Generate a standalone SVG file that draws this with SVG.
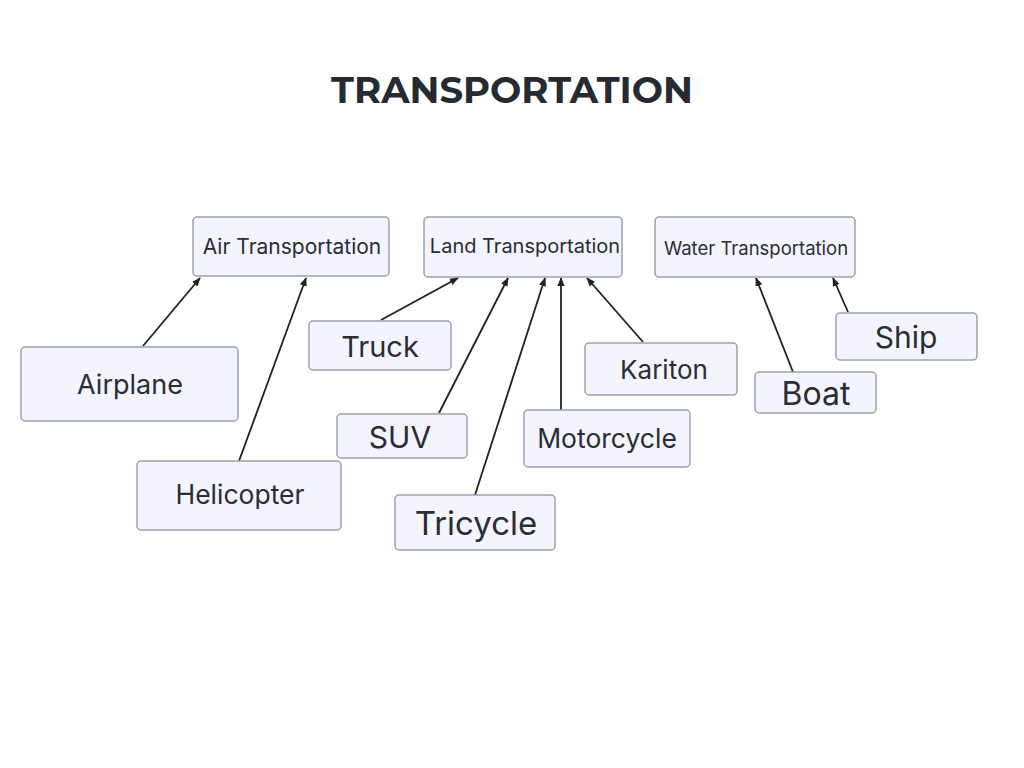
<svg xmlns="http://www.w3.org/2000/svg" width="1024" height="768" viewBox="0 0 1024 768">
<style>
.n{fill:#f4f4fe;stroke:#9ba1ad;stroke-width:1.5}
.t{font-family:Inter,"Noto Sans","Liberation Sans",sans-serif;fill:#2a2d34;text-anchor:middle;dominant-baseline:central}
.c{stroke:#222;stroke-width:1.8;fill:none;marker-end:url(#a)}
</style>
<defs><marker id="a" viewBox="0 0 10 10" refX="9" refY="5" markerWidth="5" markerHeight="5" orient="auto"><path d="M0,1 L10,5 L0,9 Z" fill="#222"/></marker></defs>
<rect width="1024" height="768" fill="#fff"/>
<text x="512" y="89" font-family="Montserrat,'Noto Sans','Liberation Sans',sans-serif" font-weight="700" font-size="37" fill="#252b32" text-anchor="middle" dominant-baseline="central">TRANSPORTATION</text>
<g id="connectors">
<line class="c" x1="143" y1="346" x2="200" y2="278"/>
<line class="c" x1="239" y1="461" x2="306" y2="278"/>
<line class="c" x1="381" y1="320" x2="458" y2="278"/>
<line class="c" x1="439" y1="413" x2="508" y2="278"/>
<line class="c" x1="475" y1="495" x2="545" y2="278"/>
<line class="c" x1="561" y1="410" x2="561" y2="278"/>
<line class="c" x1="643" y1="342" x2="587" y2="278"/>
<line class="c" x1="793" y1="372" x2="756" y2="278"/>
<line class="c" x1="848" y1="312" x2="833" y2="278"/>
</g>
<g id="air"><rect class="n" x="193" y="217" width="196" height="59" rx="4"/><text class="t" x="292" y="246" font-size="21">Air Transportation</text></g>
<g id="land"><rect class="n" x="424" y="217" width="198" height="60" rx="4"/><text class="t" x="525" y="246" font-size="20">Land Transportation</text></g>
<g id="water"><rect class="n" x="655" y="217" width="200" height="60" rx="4"/><text class="t" x="756" y="248" font-size="18.5">Water Transportation</text></g>
<g id="airplane"><rect class="n" x="21" y="347" width="217" height="74" rx="4"/><text class="t" x="130" y="384" font-size="27">Airplane</text></g>
<g id="helicopter"><rect class="n" x="137" y="461" width="204" height="69" rx="4"/><text class="t" x="240" y="494" font-size="26.5">Helicopter</text></g>
<g id="truck"><rect class="n" x="309" y="321" width="142" height="49" rx="4"/><text class="t" x="380" y="346" font-size="29">Truck</text></g>
<g id="suv"><rect class="n" x="337" y="414" width="130" height="44" rx="4"/><text class="t" x="400" y="437" font-size="30">SUV</text></g>
<g id="tricycle"><rect class="n" x="395" y="495" width="160" height="55" rx="4"/><text class="t" x="476" y="523" font-size="33">Tricycle</text></g>
<g id="motorcycle"><rect class="n" x="524" y="410" width="166" height="57" rx="4"/><text class="t" x="607" y="438" font-size="26.5">Motorcycle</text></g>
<g id="kariton"><rect class="n" x="585" y="343" width="152" height="52" rx="4"/><text class="t" x="664" y="369" font-size="26">Kariton</text></g>
<g id="boat"><rect class="n" x="755" y="372" width="121" height="41" rx="4"/><text class="t" x="816" y="393" font-size="32">Boat</text></g>
<g id="ship"><rect class="n" x="836" y="313" width="141" height="47" rx="4"/><text class="t" x="906" y="337" font-size="30">Ship</text></g>
</svg>
